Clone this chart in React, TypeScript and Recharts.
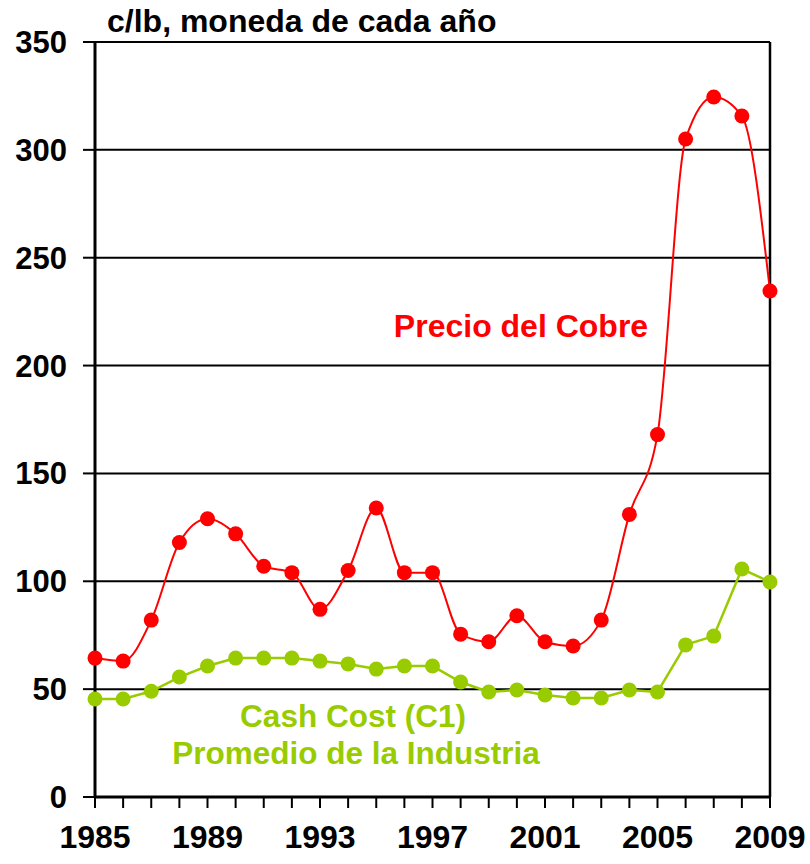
import * as React from 'react';
import {LineChart, Line, CartesianGrid, XAxis, YAxis, ReferenceLine} from 'recharts';

const years = [
    1985, 1986, 1987, 1988, 1989, 1990, 1991, 1992, 1993, 1994, 1995, 1996,
    1997, 1998, 1999, 2000, 2001, 2002, 2003, 2004, 2005, 2006, 2007, 2008, 2009
];

// c/lb
const precioCobre = [
    64.4, 63, 82, 118, 129, 122, 107, 104, 87, 105, 134, 104,
    104, 75.5, 72, 84, 72, 70, 82, 131, 168, 305, 324.5, 315.7, 234.6
];

const cashCost = [
    45.4, 45.4, 49, 55.6, 60.7, 64.4, 64.4, 64.4, 63, 61.7, 59.3, 60.7,
    60.7, 53.3, 48.7, 49.6, 47.3, 45.9, 45.9, 49.6, 48.7, 70.5, 74.6, 105.7, 99.7
];

const yTicks = [0, 50, 100, 150, 200, 250, 300, 350];

const RED = '#ff0000';
const GREEN = '#99cc00';
const FONT = '"Liberation Sans", Arial, sans-serif';

const data = years.map((year, i) => ({
    year,
    precio: precioCobre[i],
    cash: cashCost[i]
}));

const XTick = (props : any) => {
    const {x, y, payload} = props;
    if ((payload.value - 1985) % 4 !== 0) {
        return <g/>;
    }
    return (
        <text x={x} y={y} dy={40} textAnchor="middle" fontFamily={FONT}
            fontWeight="bold" fontSize={32} fill="#000">
            {payload.value}
        </text>
    );
};

const YTick = (props : any) => {
    const {x, y, payload} = props;
    return (
        <text x={x} y={y} dy={11} textAnchor="end" fontFamily={FONT}
            fontWeight="bold" fontSize={31} fill="#000">
            {payload.value}
        </text>
    );
};

const textStyle : React.CSSProperties = {
    position: 'absolute',
    fontFamily: FONT,
    fontWeight: 'bold',
    whiteSpace: 'nowrap',
    lineHeight: 1
};

export default function App() {
    return (
        <div style={{position: 'absolute', left: 0, top: 0, width: 810, height: 864, background: '#fff'}}>
            <LineChart width={810} height={864} data={data}
                margin={{top: 42, right: 40, bottom: 0, left: 0}}>
                <CartesianGrid vertical={false} stroke="#000" strokeWidth={2}/>
                <XAxis dataKey="year" type="number" domain={[1985, 2009]} ticks={years}
                    interval={0} height={67} tickSize={11} tickMargin={0}
                    axisLine={{stroke: '#000', strokeWidth: 3}}
                    tickLine={{stroke: '#000', strokeWidth: 2}}
                    tick={<XTick/>}/>
                <YAxis domain={[0, 350]} ticks={yTicks} interval={0} width={95}
                    tickSize={12} tickMargin={16}
                    axisLine={{stroke: '#000', strokeWidth: 3}}
                    tickLine={{stroke: '#000', strokeWidth: 2}}
                    tick={<YTick/>}/>
                <ReferenceLine x={2009} stroke="#000" strokeWidth={2.5}/>
                <Line type="linear" dataKey="cash" stroke={GREEN} strokeWidth={2.5}
                    dot={{r: 7.5, fill: GREEN, stroke: GREEN, strokeWidth: 0}}
                    activeDot={false} isAnimationActive={false}/>
                <Line type="monotone" dataKey="precio" stroke={RED} strokeWidth={2}
                    dot={{r: 7.5, fill: RED, stroke: RED, strokeWidth: 0}}
                    activeDot={false} isAnimationActive={false}/>
            </LineChart>

            <div style={{...textStyle, left: 107, top: 5, fontSize: 32, color: '#000'}}>
                c/lb, moneda de cada año
            </div>
            <div style={{...textStyle, left: 521, top: 310, fontSize: 32, color: RED, transform: 'translateX(-50%)'}}>
                Precio del Cobre
            </div>
            <div style={{...textStyle, left: 353, top: 701, fontSize: 31.5, color: GREEN, transform: 'translateX(-50%)', textAlign: 'center'}}>
                Cash Cost (C1)
            </div>
            <div style={{...textStyle, left: 356, top: 738, fontSize: 31.5, color: GREEN, transform: 'translateX(-50%)', textAlign: 'center'}}>
                Promedio de la Industria
            </div>
        </div>
    );
}
